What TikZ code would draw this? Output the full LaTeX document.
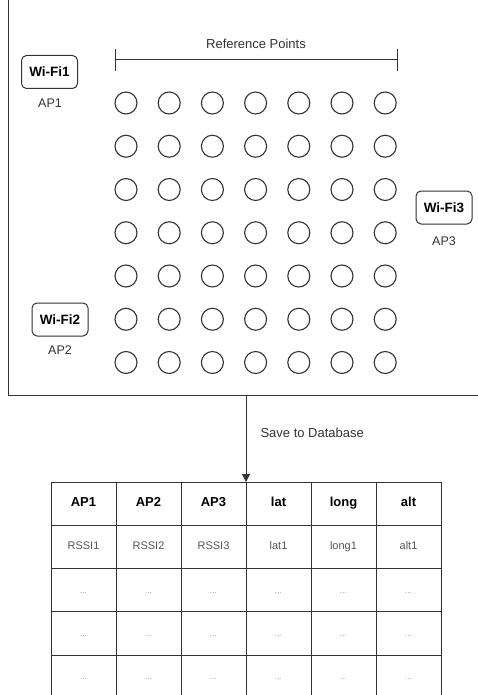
\documentclass[tikz,border=0pt]{standalone}
\usepackage{fontspec}
\setmainfont{Liberation Sans}
\usetikzlibrary{arrows.meta}
\definecolor{ink}{HTML}{333333}
\definecolor{soft}{HTML}{555555}
\definecolor{faint}{HTML}{A0A0A0}
\begin{document}
\begin{tikzpicture}[x=1pt,y=-1pt,
  border/.style={draw=ink, line width=1pt},
  wifibox/.style={border, rounded corners=5pt, minimum width=56pt, minimum height=33pt,
     inner sep=0pt, font=\fontsize{13.5}{16}\selectfont\bfseries, text=black},
  aplabel/.style={font=\fontsize{12.5}{15}\selectfont, text=ink},
  rpoint/.style={circle, draw=ink, line width=1.1pt, minimum size=22pt, inner sep=0pt},
  cellbox/.style={draw=ink, line width=1pt, minimum width=65pt, minimum height=43.25pt, inner sep=0pt, outer sep=0pt,
     text height=1.5ex, text depth=0.4ex},
  headtext/.style={font=\fontsize{13}{15}\selectfont\bfseries, text=black},
  bodytext/.style={font=\fontsize{11}{13}\selectfont, text=soft},
  dottext/.style={font=\fontsize{8.5}{10}\selectfont, text=faint},
  plain/.style={font=\fontsize{13}{15}\selectfont, text=ink}
]
\clip (0,0) rectangle (478,695);
% outer area
\node[border, minimum width=482pt, minimum height=405pt, inner sep=0pt] (area) at (249,192.5) {};
% reference points bar
\coordinate (barL) at (115,60);
\coordinate (barR) at (397,60);
\coordinate (barLt) at (115,49);
\coordinate (barLb) at (115,71);
\coordinate (barRt) at (397,49);
\coordinate (barRb) at (397,71);
\draw[draw=ink, line width=1pt] (barL) -- (barR);
\draw[draw=ink, line width=1pt] (barLt) -- (barLb);
\draw[draw=ink, line width=1pt] (barRt) -- (barRb);
\node[plain] (reflabel) at (256,44) {Reference Points};
% access points
\node[wifibox] (wifi1) at (49.5,72) {Wi-Fi1};
\node[aplabel] (ap1) at (50,103) {AP1};
\node[wifibox] (wifi2) at (60,319.5) {Wi-Fi2};
\node[aplabel] (ap2) at (60,350) {AP2};
\node[wifibox] (wifi3) at (444,207.5) {Wi-Fi3};
\node[aplabel] (ap3) at (444,241) {AP3};
% reference point grid
\foreach \i in {0,...,6}{
  \foreach \j in {0,...,6}{
    \node[rpoint] (rp-\i-\j) at (126+43.2*\i, 103+43.25*\j) {};
  }
}
% table
\foreach \t [count=\c from 0] in {AP1,AP2,AP3,lat,long,alt}{
  \node[cellbox, headtext] (cell-0-\c) at (83.5+65*\c, 503.625) {\t};
}
\foreach \t [count=\c from 0] in {RSSI1,RSSI2,RSSI3,lat1,long1,alt1}{
  \node[cellbox, bodytext] (cell-1-\c) at (83.5+65*\c, 546.875) {\t};
}
\foreach \r in {2,3,4}{
  \foreach \c in {0,...,5}{
    \node[cellbox, dottext] (cell-\r-\c) at (83.5+65*\c, 503.625+43.25*\r) {...};
  }
}
\coordinate (dbtop) at (cell-0-2.north east);
\draw[draw=ink, line width=1pt, -{Triangle[length=8pt,width=8pt]}] (area.south -| dbtop) -- (dbtop);
\node[plain, anchor=west] (savelabel) at (257,433) {Save to Database};
\end{tikzpicture}
\end{document}
